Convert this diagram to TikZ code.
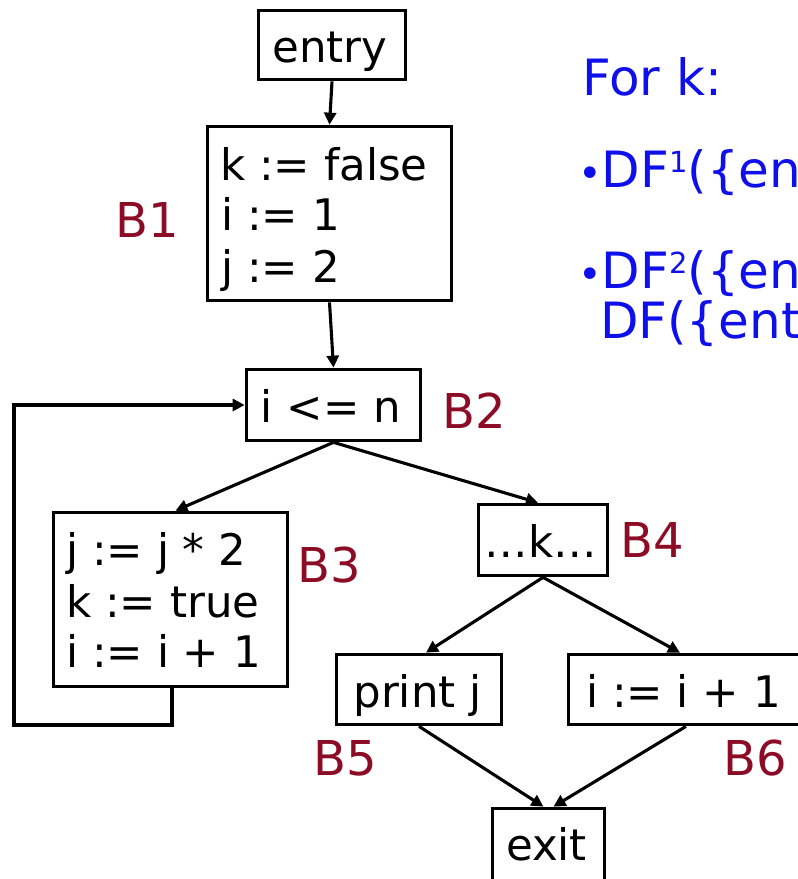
\documentclass[tikz,border=0pt]{standalone}
\usepackage{fontspec}
\setmainfont{DejaVu Sans}
\usetikzlibrary{arrows.meta}
\definecolor{labred}{RGB}{140,12,38}
\definecolor{txtblue}{RGB}{15,15,235}
\tikzset{
  box/.style={draw, line width=3.7pt, inner sep=0pt, fill=none},
  arr/.style={line width=3.1pt, -{Triangle[length=12pt,width=12pt]}},
  code/.style={inner sep=0pt, font=\fontsize{43.5}{51}\selectfont},
  blab/.style={inner sep=0pt, anchor=base west, text=labred, font=\fontsize{48}{56}\selectfont},
  note/.style={inner sep=0pt, anchor=base west, text=txtblue, font=\fontsize{50}{58}\selectfont},
}
\newcommand{\smbul}{{\fontsize{40}{40}\selectfont •}}
\newcommand{\supnum}[1]{\raisebox{15pt}{\fontsize{29}{29}\selectfont #1}}
\begin{document}
\begin{tikzpicture}[x=1pt,y=-1pt]
\useasboundingbox (0,0) rectangle (798,879);
\clip (0,0) rectangle (798,879);
\fill[white] (0,0) rectangle (798,879);

% boxes
\node[box, minimum width=147pt, minimum height=69pt] (entry) at (332,45) {};
\node[box, minimum width=244pt, minimum height=174pt] (b1) at (329.5,213.5) {};
\node[box, minimum width=174pt, minimum height=71pt] (b2) at (333.5,405) {};
\node[box, minimum width=234pt, minimum height=174pt] (b3) at (170.5,599.5) {};
\node[box, minimum width=129pt, minimum height=71pt] (b4) at (543,540) {};
\node[box, minimum width=165pt, minimum height=70pt] (b5) at (419,689.5) {};
\node[box, minimum width=235pt, minimum height=70pt] (b6) at (686,689.5) {};
\node[box, minimum width=112pt, minimum height=75pt] (exit) at (548.5,846) {};

% box texts
\node[code, anchor=base] (tentry) at (330,62) {entry};
\node[code, anchor=base west] (t1a) at (220,180) {k := false};
\node[code, anchor=base west] (t1b) at (221,230) {i := 1};
\node[code, anchor=base west] (t1c) at (221,282) {j := 2};
\node[code, anchor=base] (t2) at (331,422) {i <= n};
\node[code, anchor=base west] (t3a) at (66,565) {j := j * 2};
\node[code, anchor=base west] (t3b) at (66,617) {k := true};
\node[code, anchor=base west] (t3c) at (66,667) {i := i + 1};
\node[code, anchor=base] (t4) at (541,557) {…k…};
\node[code, anchor=base] (t5) at (417.5,707) {print j};
\node[code, anchor=base] (t6) at (683.5,707) {i := i + 1};
\node[code, anchor=base] (texit) at (546.5,860) {exit};

% block labels
\node[blab] (l1) at (115,237) {B1};
\node[blab] (l2) at (442,428) {B2};
\node[blab] (l3) at (297,582) {B3};
\node[blab] (l4) at (620,557) {B4};
\node[blab] (l5) at (313,775) {B5};
\node[blab] (l6) at (723,775) {B6};

% notes
\node[note] (n0) at (582,95) {For k:};
\node[note] (n1) at (578,187) {\smbul DF\supnum{1}(\{en};
\node[note] (n2) at (578,288) {\smbul DF\supnum{2}(\{en};
\node[note] (n3) at (600,338) {DF(\{ent};

% edges
\draw[arr] (entry.south) -- (b1.north);
\draw[arr] (b1.south) -- (b2.north);
\draw[arr] (b2.south) -- ([xshift=5pt]b3.north);
\draw[arr] (b2.south) -- ([xshift=-5pt]b4.north);
\draw[arr] (b4.south) -- ([xshift=7pt]b5.north);
\draw[arr] (b4.south) -- ([xshift=-6pt]b6.north);
\draw[arr] (b5.south) -- ([xshift=-5pt]exit.north);
\draw[arr] (b6.south) -- ([xshift=5pt]exit.north);
\coordinate (lb) at (14,725);
\draw[arr, line join=miter] ([xshift=1.5pt]b3.south) -- ([xshift=1.5pt]b3.south |- lb) -- (lb) -- (lb |- b2.west) -- (b2.west);
\end{tikzpicture}
\end{document}
